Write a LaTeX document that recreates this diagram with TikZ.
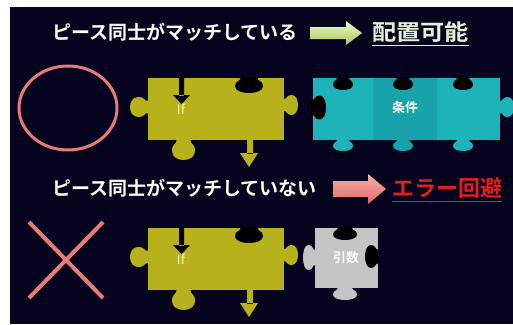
\documentclass[tikz,border=0pt]{standalone}
\usepackage{fontspec}
\newfontfamily\jp{Noto Sans CJK JP}[BoldFont={Noto Sans CJK JP Bold}]
\definecolor{bg}{HTML}{06041E}
\definecolor{ylw}{HTML}{B7B11C}
\definecolor{cyn}{HTML}{1DB3B9}
\definecolor{cyd}{HTML}{18A3AA}
\definecolor{gry}{HTML}{C4C4C4}
\definecolor{salmon}{HTML}{E87A7A}
\definecolor{okgreen}{HTML}{E2F2D2}
\definecolor{errred}{HTML}{E41E1E}
\definecolor{grtop}{HTML}{EEF8C8}
\definecolor{grbot}{HTML}{A8C860}
\definecolor{pktop}{HTML}{F8B0A8}
\definecolor{pkbot}{HTML}{E06868}
\tikzset{
  title/.style={anchor=west,text=white,font=\jp\bfseries\fontsize{19}{22}\selectfont,inner sep=0pt},
  result/.style={anchor=west,font=\jp\bfseries\fontsize{22}{25}\selectfont,inner sep=0pt},
  label/.style={text=white,font=\jp\bfseries\fontsize{13}{15}\selectfont,inner sep=0pt},
}
% knob: #1,#2 = point on edge, #3 = rotation, #4 = head width, #5 = length, #6 = colour
\newcommand\puzknob[6]{%
  \fill[#6,shift={(#1,#2)},rotate=#3]
    ({-0.3*#4},-1) -- ({-0.3*#4},0)
    .. controls ({-0.3*#4},{0.25*#5}) and ({-0.5*#4},{0.15*#5}) .. ({-0.5*#4},{0.55*#5})
    .. controls ({-0.5*#4},{1.15*#5}) and ({0.5*#4},{1.15*#5}) .. ({0.5*#4},{0.55*#5})
    .. controls ({0.5*#4},{0.15*#5}) and ({0.3*#4},{0.25*#5}) .. ({0.3*#4},0)
    -- ({0.3*#4},-1) -- cycle;}
\begin{document}
\begin{tikzpicture}[x=1pt,y=-1pt]
\useasboundingbox (0,0) rectangle (513,324);
\clip (0,0) rectangle (513,324);
\fill[white] (0,0) rectangle (513,324);
\fill[bg] (10,7) rectangle (513,324);

% ---- row 1 texts
\node[title] (t1) at (52,32) {ピース同士がマッチしている};
\shade[top color=grtop, bottom color=grbot]
  (310,27) -- (346,27) -- (346,21) -- (362,33) -- (346,45) -- (346,39) -- (310,39) -- cycle;
\node[result,text=okgreen,xscale=1.1,transform shape] (r1) at (372,32) {配置可能};
\draw[okgreen,line width=1.3pt] ([yshift=-3pt]r1.south west) -- ([yshift=-3pt]r1.south east);

% ---- circle
\draw[salmon,line width=3pt] (68,108) ellipse [x radius=49pt, y radius=42pt];

% ---- yellow pieces
\foreach \dy/\nm in {0/a,150/b}{
\begin{scope}[shift={(0,\dy)}]
  \fill[ylw] (148,78) rectangle (284,140);
  \puzknob{148}{107}{-90}{20}{18}{ylw}
  \puzknob{284}{105}{90}{20}{14}{ylw}
  \puzknob{183.5}{140}{0}{23}{20}{ylw}
  \puzknob{249}{78}{0}{28}{15}{black}
  \fill[black] (179,77.5) rectangle (184,96) (173,95) -- (190,95) -- (181.5,104) -- cycle;
  \fill[ylw] (247,139) rectangle (253,154) (240,153) -- (258,153) -- (249,167) -- cycle;
  \node[label,text=yellow!30!white,font=\jp\fontsize{13}{15}\selectfont] (if\nm) at (181,109) {If};
\end{scope}
}

% ---- cyan piece
\fill[cyn] (313,78) rectangle (500,140);
\fill[cyd] (373,78) rectangle (437,140);
\puzknob{500}{107}{90}{20}{14}{cyn}
\puzknob{312}{107.5}{90}{24}{14}{black}
\foreach \cx/\fc in {343/cyn,403/cyd,463/cyn}{
  \puzknob{\cx}{78}{0}{20}{12}{black}
  \puzknob{\cx}{140}{0}{20}{11}{\fc}
}
\node[label] (cond) at (405,108) {条件};

% ---- row 2 texts
\node[title] (t2) at (52,188) {ピース同士がマッチしていない};
\shade[top color=pktop, bottom color=pkbot]
  (333,181) -- (368,181) -- (368,174) -- (386,189) -- (368,204) -- (368,197) -- (333,197) -- cycle;
\node[result,text=errred] (r2) at (392,188) {エラー回避};
\draw[errred,line width=1.3pt] ([yshift=-3pt]r2.south west) -- ([yshift=-3pt]r2.south east);

% ---- cross
\draw[salmon,line width=4pt] (29,222) -- (103,298) (103,222) -- (29,298);

% ---- gray piece
\fill[gry] (315,228) rectangle (378,288);
\puzknob{315}{257.5}{-90}{25}{12}{gry}
\puzknob{345}{288}{0}{24}{12}{gry}
\puzknob{345}{228}{0}{24}{12}{black}
\puzknob{378}{256.5}{-90}{23}{13}{black}
\node[label,text=white!95!gray] (arg) at (346,258) {引数};
\end{tikzpicture}
\end{document}
